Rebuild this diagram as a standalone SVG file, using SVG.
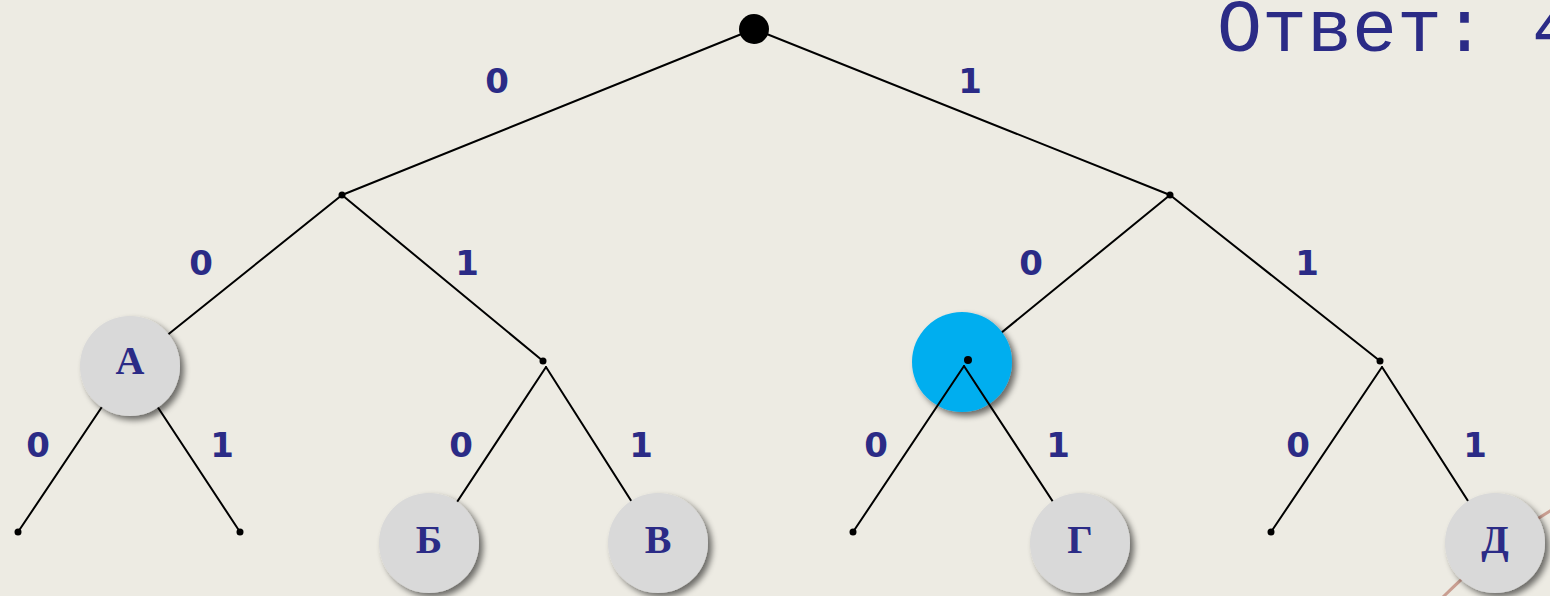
<svg xmlns="http://www.w3.org/2000/svg" width="1550" height="596" viewBox="0 0 1550 596">
  <defs>
    <filter id="sh" x="-30%" y="-30%" width="170%" height="170%">
      <feGaussianBlur in="SourceAlpha" stdDeviation="3"/>
      <feOffset dx="4" dy="4" result="b"/>
      <feComponentTransfer><feFuncA type="linear" slope="0.55"/></feComponentTransfer>
      <feMerge><feMergeNode/><feMergeNode in="SourceGraphic"/></feMerge>
    </filter>
  </defs>
  <style>
    .edge { stroke: #000; stroke-width: 2; fill: none; stroke-linecap: round; }
    .dot { fill: #000; }
    .lbl { font-family: "DejaVu Sans", Verdana, sans-serif; font-weight: bold; font-size: 34px; fill: #2b2b86; text-anchor: middle; }
    .node { fill: #d9d9d9; filter: url(#sh); }
    .sel { fill: #00aeef; filter: url(#sh); }
    .let { font-family: "Liberation Serif", "Times New Roman", serif; font-weight: bold; font-size: 40px; fill: #2b2b86; text-anchor: middle; }
    .ans { font-family: "Liberation Mono", "Courier New", monospace; font-size: 75px; fill: #2b2b86; }
  </style>
  <rect width="1550" height="596" fill="#edebe3"/>
  <path d="M1440 600 Q1500 540 1555 508" stroke="#b06a5a" stroke-width="3" fill="none" opacity="0.6"/>

  <g id="connectors">
    <line class="edge" x1="754" y1="29" x2="342" y2="195"/>
    <line class="edge" x1="754" y1="29" x2="1170" y2="195"/>
    <line class="edge" x1="342" y1="195" x2="130" y2="365"/>
    <line class="edge" x1="342" y1="195" x2="543" y2="361"/>
    <line class="edge" x1="1170" y1="195" x2="968" y2="360"/>
    <line class="edge" x1="1170" y1="195" x2="1380" y2="361"/>
    <line class="edge" x1="130" y1="365" x2="18" y2="532"/>
    <line class="edge" x1="130" y1="365" x2="240" y2="532"/>
    <line class="edge" x1="546" y1="367" x2="430" y2="543"/>
    <line class="edge" x1="546" y1="367" x2="658" y2="543"/>
    <line class="edge" x1="1382" y1="367" x2="1271" y2="532"/>
    <line class="edge" x1="1382" y1="367" x2="1495" y2="543"/>
  </g>

  <g id="root"><circle class="dot" cx="754" cy="29" r="15"/></g>
  <g id="n0"><circle class="dot" cx="342" cy="195" r="3.5"/></g>
  <g id="n1"><circle class="dot" cx="1170" cy="195" r="3.5"/></g>
  <g id="nodeA"><circle class="node" cx="130" cy="366" r="50"/><text class="let" x="130" y="374">А</text></g>
  <g id="n01"><circle class="dot" cx="543" cy="361" r="3.5"/></g>
  <g id="n10">
    <circle class="sel" cx="962" cy="362" r="50"/>
    <g id="connectors-n10">
      <line class="edge" x1="964" y1="366" x2="853" y2="532"/>
      <line class="edge" x1="964" y1="366" x2="1080" y2="543"/>
    </g>
    <circle class="dot" cx="968" cy="360" r="4"/>
  </g>
  <g id="n11"><circle class="dot" cx="1380" cy="361" r="3.5"/></g>
  <g id="leaf000"><circle class="dot" cx="18" cy="532" r="3.5"/></g>
  <g id="leaf001"><circle class="dot" cx="240" cy="532" r="3.5"/></g>
  <g id="leaf100"><circle class="dot" cx="853" cy="532" r="3.5"/></g>
  <g id="leaf110"><circle class="dot" cx="1271" cy="532" r="3.5"/></g>
  <g id="nodeB"><circle class="node" cx="429" cy="543" r="50"/><text class="let" x="429" y="553">Б</text></g>
  <g id="nodeV"><circle class="node" cx="658" cy="543" r="50"/><text class="let" x="658" y="553">В</text></g>
  <g id="nodeG"><circle class="node" cx="1080" cy="543" r="50"/><text class="let" x="1080" y="553">Г</text></g>
  <g id="nodeD"><circle class="node" cx="1495" cy="543" r="50"/><text class="let" x="1495" y="553">Д</text></g>

  <g id="labels">
    <text class="lbl" x="497" y="93">0</text>
    <text class="lbl" x="970" y="93">1</text>
    <text class="lbl" x="201" y="275">0</text>
    <text class="lbl" x="467" y="275">1</text>
    <text class="lbl" x="1031" y="275">0</text>
    <text class="lbl" x="1307" y="275">1</text>
    <text class="lbl" x="38" y="457">0</text>
    <text class="lbl" x="222" y="457">1</text>
    <text class="lbl" x="461" y="457">0</text>
    <text class="lbl" x="641" y="457">1</text>
    <text class="lbl" x="876" y="457">0</text>
    <text class="lbl" x="1058" y="457">1</text>
    <text class="lbl" x="1298" y="457">0</text>
    <text class="lbl" x="1475" y="457">1</text>
  </g>

  <g id="answer"><text class="ans" x="1217" y="51">Ответ: 4</text></g>
</svg>
